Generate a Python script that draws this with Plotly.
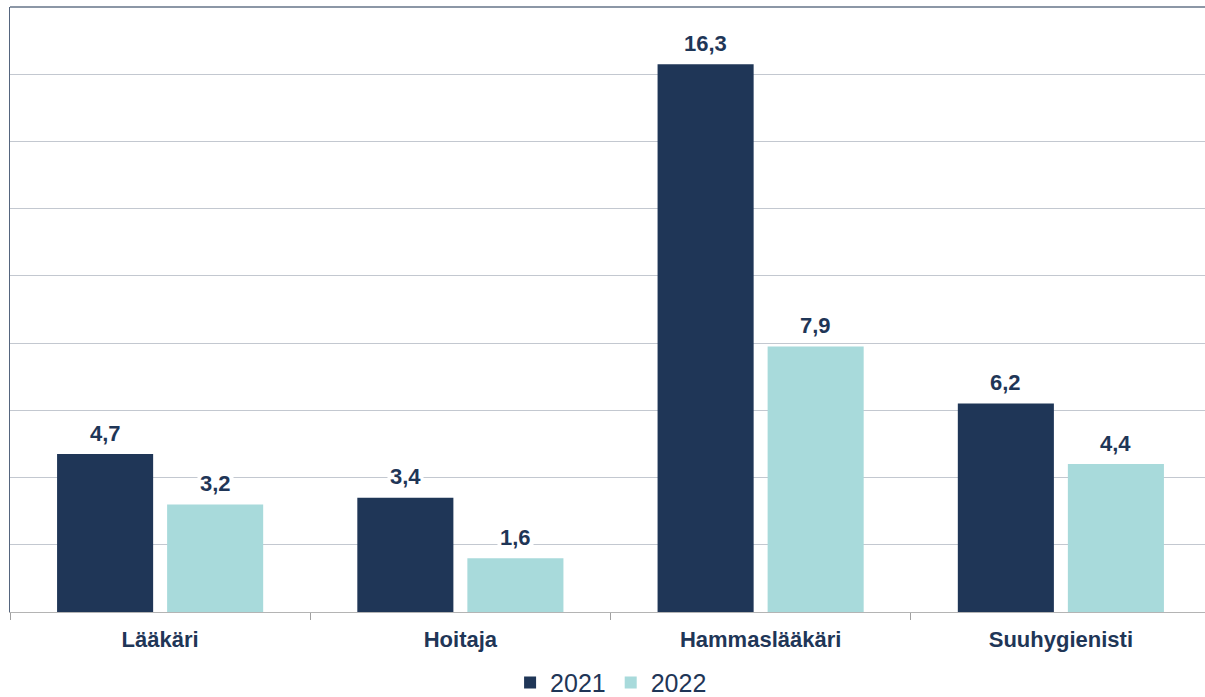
import plotly.graph_objects as go

categories = ["Lääkäri", "Hoitaja", "Hammaslääkäri", "Suuhygienisti"]
series_names = ["2021", "2022"]
values_2021 = [4.7, 3.4, 16.3, 6.2]
values_2022 = [3.2, 1.6, 7.9, 4.4]
colors = ["#1F3657", "#A8DADB"]
text_color = "#1F3657"
font_family = "Liberation Sans, Arial, sans-serif"
label_shift = [-55, 55]

fig = go.Figure()
for name, vals, col in zip(series_names, [values_2021, values_2022], colors):
    fig.add_trace(go.Bar(
        x=categories, y=vals, name=name, marker=dict(color=col, line=dict(width=0)),
    ))

annotations = []
for vals, shift in zip([values_2021, values_2022], label_shift):
    for cat, v in zip(categories, vals):
        annotations.append(dict(
            x=cat, y=v, xref="x", yref="y", text=f"{v:.1f}".replace(".", ","),
            showarrow=False, xshift=shift, yshift=21, yanchor="middle",
            bgcolor="white", borderpad=2,
            font=dict(family=font_family, size=22, color=text_color, weight="bold"),
        ))

fig.update_layout(
    width=1205, height=697,
    margin=dict(l=10, r=0, t=7, b=85, autoexpand=False),
    paper_bgcolor="white", plot_bgcolor="white",
    separators=", ",
    barmode="group", bargap=0.267, bargroupgap=0.127,
    font=dict(family=font_family, color=text_color),
    legend=dict(orientation="h", x=0.503, xanchor="center", y=-0.117, yanchor="middle",
                font=dict(size=25, color=text_color), itemwidth=30,
                traceorder="normal"),
    xaxis=dict(range=[-0.5, 3.48], showline=True, linecolor="#B4B4B4", linewidth=1,
               ticks="outside", tickson="boundaries", ticklen=7, tickcolor="#A0A0A0",
               ticklabelstandoff=8, automargin=False,
               tickfont=dict(family=font_family, size=22, color=text_color, weight="bold"),
               showgrid=False),
    yaxis=dict(range=[0, 18], dtick=2, showticklabels=False, showgrid=True,
               gridcolor="#C3C8D0", gridwidth=1, zeroline=False, automargin=False,
               showline=True, linecolor="#55657E", linewidth=1),
    shapes=[dict(type="line", xref="paper", yref="paper", x0=0, x1=1, y0=1, y1=1,
                 line=dict(color="#8C97A6", width=2))],
    annotations=annotations,
)

fig.write_html("out.html", config={"displayModeBar": False},
               post_script="document.body.style.margin='0';")
